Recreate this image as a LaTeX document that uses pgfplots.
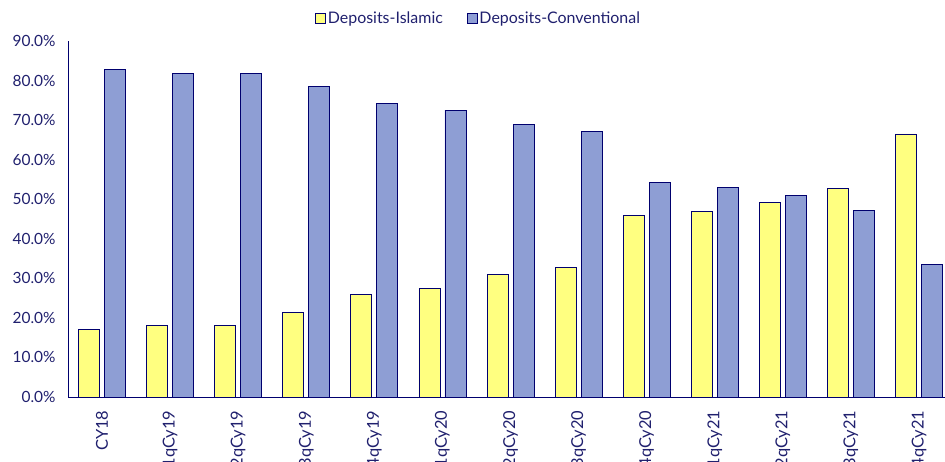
\documentclass[border=0pt]{standalone}
\usepackage{pgfplots}
\pgfplotsset{compat=1.18}
\usepackage{fontspec}
\setmainfont{Lato}
\definecolor{txt}{RGB}{32,32,110}
\definecolor{isl}{RGB}{255,255,128}
\definecolor{conv}{RGB}{142,158,212}
\definecolor{edge}{RGB}{0,0,110}
\begin{document}
\begin{tikzpicture}
\path[use as bounding box] (-68bp,-65bp) rectangle (877bp,397bp);
\clip (-68bp,-65bp) rectangle (877bp,397bp);
\begin{axis}[
  at={(0,0)}, anchor=south west,
  scale only axis,
  width=885bp, height=356bp,
  xmin=-0.5, xmax=12.5,
  ymin=0, ymax=90,
  ybar=5bp, bar width=21bp,
  axis lines*=left,
  axis line style={edge, line width=0.8pt, -},
  major tick length=0pt,
  xtick={0,...,12},
  xticklabels={CY18,1qCy19,2qCy19,3qCy19,4qCy19,1qCy20,2qCy20,3qCy20,4qCy20,1qCy21,2qCy21,3qCy21,4qCy21},
  x tick label style={rotate=90, anchor=east, xshift=-10bp, font=\fontsize{16.5}{18}\selectfont},
  ytick={0,10,...,90},
  /pgf/number format/assume math mode=true,
  yticklabel={\pgfmathprintnumber[fixed,fixed zerofill,precision=1]{\tick}\%},
  y tick label style={xshift=-9bp, font=\fontsize{15.5}{17}\selectfont},
  tick label style={text=txt},
  legend style={at={(axis description cs:0.464,1.0646)}, anchor=center, draw=none, fill=none,
    font=\fontsize{16}{18}\selectfont, text=txt, /tikz/every even column/.append style={column sep=22bp}},
  legend columns=2,
  legend image code/.code={\draw[#1, line width=0.6pt] (0bp,-5bp) rectangle (10bp,5bp);},
  clip=false,
]
\addplot[fill=isl, draw=edge, line width=0.8pt] coordinates {
(0,17.1) (1,18.2) (2,18.1) (3,21.4) (4,25.9) (5,27.5) (6,31.0) (7,32.8) (8,45.8) (9,47.0) (10,49.1) (11,52.8) (12,66.5)};
\addplot[fill=conv, draw=edge, line width=0.8pt] coordinates {
(0,82.9) (1,81.8) (2,81.9) (3,78.6) (4,74.1) (5,72.5) (6,69.0) (7,67.2) (8,54.2) (9,53.0) (10,50.9) (11,47.2) (12,33.5)};
\legend{Deposits-Islamic,Deposits-Conventional}
\end{axis}
\end{tikzpicture}
\end{document}
